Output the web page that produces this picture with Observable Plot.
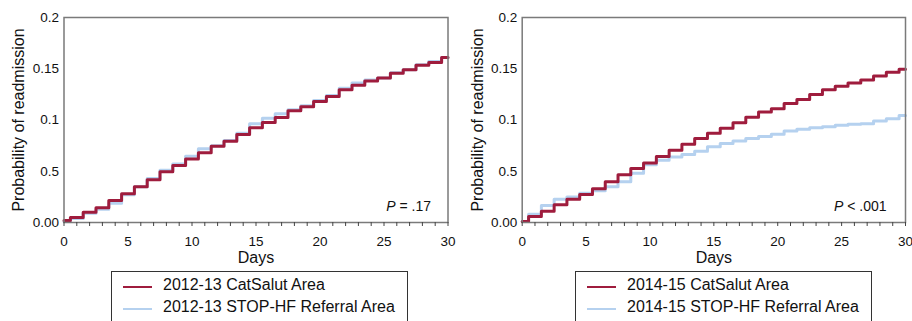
<!DOCTYPE html>
<html>
<head>
<meta charset="utf-8">
<script src="https://cdn.jsdelivr.net/npm/d3@7"></script>
<script src="https://cdn.jsdelivr.net/npm/@observablehq/plot@0.6"></script>
<style>
  html, body { margin: 0; padding: 0; background: #fff; }
  #wrap { position: relative; width: 912px; height: 321px; overflow: hidden; font-family: "Liberation Sans", Arial, sans-serif; }
  .panel { position: absolute; top: 0; }
  .legend { position: absolute; top: 271px; height: 70px; border: 1px solid #333; box-sizing: border-box; }
  .item { position: absolute; font-size: 16px; color: #111; white-space: nowrap; }
  .sw { position: absolute; width: 29px; height: 2.5px; }
</style>
</head>
<body>
<div id="wrap"></div>
<script>
// Step positions (days) where each level starts; last entry closes the curve at day 30
const stepDays = [0, 0.5, 1.5, 2.5, 3.5, 4.5, 5.5, 6.5, 7.5, 8.5, 9.5, 10.5, 11.5, 12.5, 13.5, 14.5,
  15.5, 16.5, 17.5, 18.5, 19.5, 20.5, 21.5, 22.5, 23.5, 24.5, 25.5, 26.5, 27.5, 28.5, 29.5, 30];

const catSalut1213 = [0.002, 0.005, 0.010, 0.0143, 0.0215, 0.028, 0.035, 0.0417, 0.0495, 0.0556, 0.062,
  0.068, 0.0745, 0.0793, 0.0859, 0.0924, 0.0976, 0.1024, 0.109, 0.113, 0.118, 0.123, 0.1295, 0.134,
  0.138, 0.141, 0.1457, 0.149, 0.1535, 0.156, 0.161];
const stopHF1213 = [0.001, 0.004, 0.009, 0.013, 0.0188, 0.027, 0.035, 0.043, 0.051, 0.057, 0.0647,
  0.072, 0.075, 0.080, 0.087, 0.0963, 0.1018, 0.106, 0.110, 0.114, 0.119, 0.124, 0.131, 0.136,
  0.139, 0.141, 0.146, 0.149, 0.154, 0.157, 0.161];
const catSalut1415 = [0.001, 0.0058, 0.011, 0.0172, 0.0227, 0.0272, 0.033, 0.0398, 0.0466, 0.0528, 0.058,
  0.0644, 0.0706, 0.0764, 0.0819, 0.087, 0.0919, 0.0974, 0.1026, 0.1078, 0.111, 0.1162, 0.12, 0.125,
  0.1294, 0.133, 0.136, 0.139, 0.143, 0.1466, 0.1495];
const stopHF1415 = [0.001, 0.008, 0.0165, 0.0227, 0.025, 0.0285, 0.031, 0.035, 0.0398, 0.048, 0.0563,
  0.0608, 0.064, 0.0663, 0.0696, 0.0738, 0.077, 0.0796, 0.082, 0.084, 0.086, 0.0893, 0.091, 0.0925,
  0.0935, 0.095, 0.0958, 0.0964, 0.099, 0.1013, 0.1045];

const yTicks = [0, 0.05, 0.1, 0.15, 0.2];
const yTickLabels = ["0.00", "0.5", "0.1", "0.15", "0.2"];
const xTicks = [0, 1, 2, 3, 4, 5, 6, 7, 8, 9, 10, 11, 12, 13, 14, 15, 16, 17, 18, 19, 20,
  21, 22, 23, 24, 25, 26, 27, 28, 29, 30];
const xTickLabels = {0: "0", 5: "5", 10: "10", 15: "15", 20: "20", 25: "25", 30: "30"};

const panels = [
  {left: 0, ml: 63.5, mr: 8.5, red: catSalut1213, blue: stopHF1213,
   pSym: "P", pRest: " = .17", pDx: -17,
   legend: ["2012-13 CatSalut Area", "2012-13 STOP-HF Referral Area"], legLeft: 111, legW: 297},
  {left: 456, ml: 65.7, mr: 7, red: catSalut1415, blue: stopHF1415,
   pSym: "P", pRest: " < .001", pDx: -19,
   legend: ["2014-15 CatSalut Area", "2014-15 STOP-HF Referral Area"], legLeft: 575, legW: 297}
];

const RED = "#9f1c3d", BLUE = "#b5d1ef";
const wrap = document.getElementById("wrap");

function series(levels) {
  return stepDays.map((d, i) => ({x: d, y: levels[Math.min(i, levels.length - 1)]}));
}

for (const p of panels) {
  const chart = Plot.plot({
    width: 456, height: 266,
    marginLeft: p.ml, marginRight: p.mr, marginTop: 17, marginBottom: 44,
    style: {fontFamily: "Liberation Sans, Arial, sans-serif", color: "#111", background: "transparent"},
    x: {domain: [0, 30]},
    y: {domain: [0, 0.2]},
    marks: [
      Plot.line(series(p.blue), {x: "x", y: "y", curve: "step-after", stroke: BLUE, strokeWidth: 3}),
      Plot.line(series(p.red), {x: "x", y: "y", curve: "step-after", stroke: RED, strokeWidth: 3}),
      Plot.frame({stroke: "#7a7a7a", strokeWidth: 1.5}),
      Plot.axisX({ticks: xTicks, tickSize: 4, tickPadding: 10, fontSize: 13.5,
        tickFormat: d => xTickLabels[d] ?? "", stroke: "#444",
        label: "Days", labelAnchor: "center", labelArrow: "none", labelOffset: 40}),
      Plot.axisY({ticks: yTicks, tickSize: 0, tickPadding: 5, fontSize: 13.5,
        tickFormat: (d, i) => yTickLabels[yTicks.indexOf(d)],
        label: "Probability of readmission", labelAnchor: "center", labelArrow: "none", labelOffset: 51}),
      Plot.text([p.pSym + p.pRest], {frameAnchor: "bottom-right", dx: p.pDx, dy: -12,
        textAnchor: "end", lineAnchor: "bottom", fontSize: 14, className: "pval"})
    ]
  });
  // enlarge axis labels
  d3.select(chart).selectAll("[aria-label='x-axis label'] text, [aria-label='y-axis label'] text")
    .attr("font-size", 16);
  // italic P
  d3.select(chart).selectAll(".pval text").each(function() {
    const t = d3.select(this);
    t.text(null);
    t.append("tspan").attr("font-style", "italic").text(p.pSym);
    t.append("tspan").text(p.pRest);
  });
  const div = document.createElement("div");
  div.className = "panel";
  div.style.left = p.left + "px";
  div.appendChild(chart);
  wrap.appendChild(div);

  const leg = document.createElement("div");
  leg.className = "legend";
  leg.style.left = p.legLeft + "px";
  leg.style.width = p.legW + "px";
  [[RED, p.legend[0], 0], [BLUE, p.legend[1], 1]].forEach(([c, label, k]) => {
    const sw = document.createElement("div");
    sw.className = "sw";
    sw.style.background = c;
    sw.style.left = "11px";
    sw.style.top = (13.5 + k * 22) + "px";
    leg.appendChild(sw);
    const it = document.createElement("div");
    it.className = "item";
    it.style.left = "51px";
    it.style.top = (4 + k * 22) + "px";
    it.textContent = label;
    leg.appendChild(it);
  });
  wrap.appendChild(leg);
}
</script>
</body>
</html>
